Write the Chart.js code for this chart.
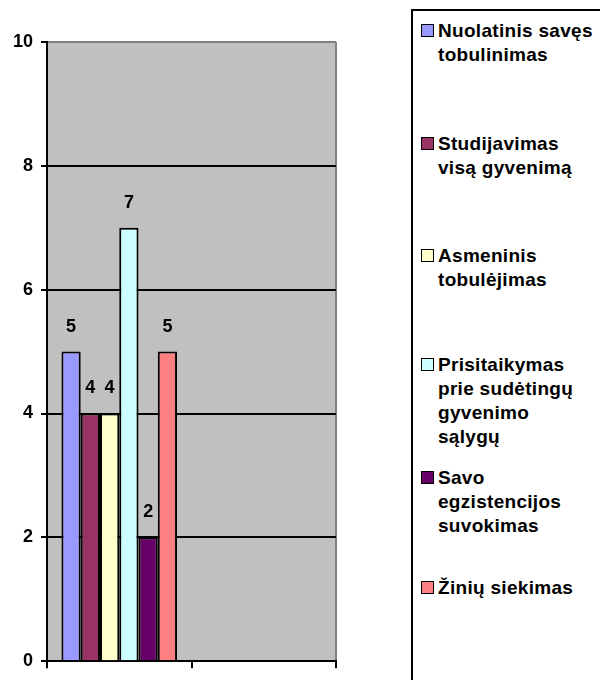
<!DOCTYPE html>
<html>
<head>
<meta charset="utf-8">
<script src="https://cdn.jsdelivr.net/npm/chart.js@4/dist/chart.umd.min.js"></script>
<style>
  body { margin: 0; background: #fff; font-family: "Liberation Sans", Arial, sans-serif; }
  #wrap { position: relative; width: 600px; height: 680px; overflow: hidden; }
  #chart { position: absolute; left: 0; top: 0; }
  #legend { position: absolute; left: 411px; top: 9px; width: 300px; height: 720px; border: 2px solid #000; background: #fff; box-sizing: border-box; }
  .item { position: absolute; left: 0; font-weight: bold; font-size: 19px; line-height: 24px; color: #000; letter-spacing: 0.3px; }
  .item .sw { position: absolute; left: 8px; top: 5px; width: 11px; height: 11px; border: 1.5px solid #000; }
  .item .txt { position: absolute; left: 25px; top: 0; white-space: nowrap; }
</style>
</head>
<body>
<div id="wrap">
  <canvas id="chart" width="600" height="680"></canvas>
  <div id="legend"></div>
</div>
<script>
const categories = ['', ''];
const seriesNames = [
  ['Nuolatinis savęs', 'tobulinimas'],
  ['Studijavimas', 'visą gyvenimą'],
  ['Asmeninis', 'tobulėjimas'],
  ['Prisitaikymas', 'prie sudėtingų', 'gyvenimo', 'sąlygų'],
  ['Savo', 'egzistencijos', 'suvokimas'],
  ['Žinių siekimas']
];
const seriesValues = [
  [5, null],
  [4, null],
  [4, null],
  [7, null],
  [2, null],
  [5, null]
];
const seriesColors = ['#9999FF', '#993366', '#FFFFCC', '#CCFFFF', '#660066', '#FF8080'];
const yTicks = [0, 2, 4, 6, 8, 10];
const legendTops = [8, 121, 233, 342, 455, 565];

const plotBg = {
  id: 'plotBg',
  beforeDraw(chart) {
    const { ctx, chartArea: a } = chart;
    ctx.save();
    ctx.fillStyle = '#C0C0C0';
    ctx.fillRect(a.left, a.top, a.right - a.left, a.bottom - a.top);
    ctx.strokeStyle = '#808080';
    ctx.lineWidth = 2;
    ctx.beginPath();
    ctx.moveTo(a.right, a.top);
    ctx.lineTo(a.right, a.bottom);
    ctx.stroke();
    ctx.restore();
  }
};

const valueLabels = {
  id: 'valueLabels',
  afterDatasetsDraw(chart) {
    const { ctx } = chart;
    ctx.save();
    ctx.font = 'bold 18px "Liberation Sans", Arial, sans-serif';
    ctx.fillStyle = '#000';
    ctx.textAlign = 'center';
    ctx.textBaseline = 'middle';
    chart.data.datasets.forEach((ds, i) => {
      chart.getDatasetMeta(i).data.forEach((bar, j) => {
        const v = ds.data[j];
        if (v == null) return;
        ctx.fillText(String(v), bar.x, bar.y - 25);
      });
    });
    ctx.restore();
  }
};

new Chart(document.getElementById('chart'), {
  type: 'bar',
  data: {
    labels: categories,
    datasets: seriesNames.map((name, i) => ({
      label: name.join(' '),
      data: seriesValues[i],
      backgroundColor: seriesColors[i],
      borderColor: '#000',
      borderWidth: 2,
      categoryPercentage: 0.8,
      barPercentage: 1
    }))
  },
  options: {
    responsive: false,
    animation: false,
    layout: { padding: { top: 42, right: 264, left: 0, bottom: 0 } },
    plugins: { legend: { display: false }, tooltip: { enabled: false } },
    scales: {
      x: {
        afterFit: (s) => { s.height = 18; },
        grid: { offset: true, drawOnChartArea: false, tickLength: 7, tickColor: '#000', lineWidth: 2 },
        border: { color: '#000', width: 2 },
        ticks: { display: false }
      },
      y: {
        min: 0,
        max: 10,
        afterFit: (s) => { s.width = 47; },
        afterBuildTicks: (s) => { s.ticks = yTicks.map(v => ({ value: v })); },
        grid: {
          color: (c) => c.tick && c.tick.value === 10 ? '#808080' : '#000',
          tickColor: '#000',
          lineWidth: 2,
          tickLength: 6
        },
        border: { color: '#000', width: 2 },
        ticks: {
          padding: 8,
          color: '#000',
          font: { family: '"Liberation Sans", Arial, sans-serif', size: 18, weight: 'bold' }
        }
      }
    }
  },
  plugins: [plotBg, valueLabels]
});

const legend = document.getElementById('legend');
seriesNames.forEach((lines, i) => {
  const item = document.createElement('div');
  item.className = 'item';
  item.style.top = legendTops[i] + 'px';
  const sw = document.createElement('div');
  sw.className = 'sw';
  sw.style.background = seriesColors[i];
  const txt = document.createElement('div');
  txt.className = 'txt';
  txt.innerHTML = lines.join('<br>');
  item.appendChild(sw);
  item.appendChild(txt);
  legend.appendChild(item);
});
</script>
</body>
</html>
